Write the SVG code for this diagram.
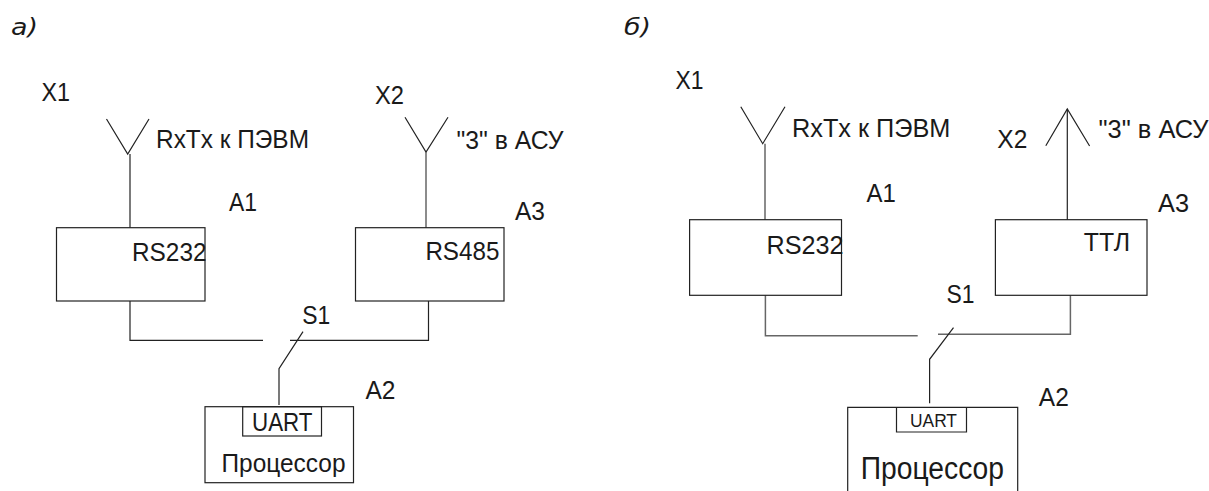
<svg xmlns="http://www.w3.org/2000/svg" width="1209" height="491" viewBox="0 0 1209 491">
<style>
text{font-family:"Liberation Sans",Arial,sans-serif;font-size:25px;fill:#1a1a1a}
.h{font-family:"DejaVu Sans",Verdana,sans-serif;font-style:italic;font-size:23px}
.b{fill:none;stroke:#222;stroke-width:1.2}
.c{fill:none;stroke:#222;stroke-width:1.2}
.g{fill:none;stroke:#666;stroke-width:1.5}
</style>
<rect width="1209" height="491" fill="#fff"/>
<g id="connectors">
<path class="c" d="M106.5 119L127.7 154L149 119"/>
<path class="c" d="M130 154V227.7"/>
<path class="c" d="M130 301V340.3H263"/>
<path class="c" d="M290 340.3H428.5V301"/>
<path class="c" d="M405 117.3L426 152L448 117.3"/>
<path class="g" d="M426 152V227.7"/>
<path class="c" d="M303 331.7L279 368.7V405"/>
<path class="c" d="M740.8 106.7L762.7 143.7L785 106.7"/>
<path class="g" d="M765 143.7V219.7"/>
<path class="g" d="M765.4 295.3V335.7H917.7"/>
<path class="g" d="M938 334.3H1070.4V295.3"/>
<path class="c" d="M1067.3 109V219.7"/>
<path class="c" d="M1045.8 145.7L1067.3 109L1089.6 146"/>
<path class="c" d="M953.5 327.7L929.6 359.3V403.3"/>
</g>
<g id="title-a"><text class="h" x="11" y="35" textLength="27" lengthAdjust="spacingAndGlyphs">а)</text></g>
<g id="title-b"><text class="h" x="624" y="35" textLength="27" lengthAdjust="spacingAndGlyphs">б)</text></g>
<g id="a-X1"><text x="41.5" y="100.7" textLength="28.5" lengthAdjust="spacingAndGlyphs">X1</text></g>
<g id="a-rxtx"><text x="156" y="147.7" textLength="153" lengthAdjust="spacingAndGlyphs">RxTx к ПЭВМ</text></g>
<g id="a-X2"><text x="375" y="104" textLength="29" lengthAdjust="spacingAndGlyphs">X2</text></g>
<g id="a-asu"><text x="456.5" y="149" textLength="107" lengthAdjust="spacingAndGlyphs">"3" в АСУ</text></g>
<g id="a-A1"><rect class="b" x="56.5" y="227.7" width="148.5" height="73.3"/><text x="229" y="210.7" textLength="28" lengthAdjust="spacingAndGlyphs">А1</text><text x="132" y="261" textLength="74.5" lengthAdjust="spacingAndGlyphs">RS232</text></g>
<g id="a-A3"><rect class="b" x="355.5" y="227.7" width="148.5" height="73.3"/><text x="515" y="219.7" textLength="30" lengthAdjust="spacingAndGlyphs">А3</text><text x="425.4" y="260" textLength="74" lengthAdjust="spacingAndGlyphs">RS485</text></g>
<g id="a-S1"><text x="302.3" y="324" textLength="28" lengthAdjust="spacingAndGlyphs">S1</text></g>
<g id="a-A2"><rect class="b" x="205" y="406.7" width="148.5" height="76"/><rect class="b" x="242.7" y="406.7" width="78.8" height="29.3"/><text x="365.4" y="398.7" textLength="30" lengthAdjust="spacingAndGlyphs">А2</text><text x="252" y="431" textLength="60.5" lengthAdjust="spacingAndGlyphs">UART</text><text x="221.5" y="472" textLength="124" lengthAdjust="spacingAndGlyphs">Процессор</text></g>
<g id="b-X1"><text x="675.4" y="88.7" textLength="28" lengthAdjust="spacingAndGlyphs">X1</text></g>
<g id="b-rxtx"><text x="792" y="137" textLength="158.4" lengthAdjust="spacingAndGlyphs">RxTx к ПЭВМ</text></g>
<g id="b-X2"><text x="997.3" y="147.7" textLength="30" lengthAdjust="spacingAndGlyphs">X2</text></g>
<g id="b-asu"><text x="1098.5" y="137.7" textLength="110" lengthAdjust="spacingAndGlyphs">"3" в АСУ</text></g>
<g id="b-A1"><rect class="b" x="689.6" y="219.7" width="151.9" height="75.6"/><text x="866.5" y="201.7" textLength="29.3" lengthAdjust="spacingAndGlyphs">А1</text><text x="766.5" y="254.3" textLength="77" lengthAdjust="spacingAndGlyphs">RS232</text></g>
<g id="b-A3"><rect class="b" x="995.4" y="219.7" width="151.6" height="75.6"/><text x="1158" y="211.7" textLength="31" lengthAdjust="spacingAndGlyphs">А3</text><text x="1083.8" y="250.7" textLength="46.2" lengthAdjust="spacingAndGlyphs">ТТЛ</text></g>
<g id="b-S1"><text x="946.5" y="303.3" textLength="28" lengthAdjust="spacingAndGlyphs">S1</text></g>
<g id="b-A2"><path class="b" d="M847.7 491V407.3H1017.7V491"/><path class="b" d="M896.5 407.3V432H966.5V407.3"/><text x="1038.8" y="405.7" textLength="30" lengthAdjust="spacingAndGlyphs">А2</text><text x="910" y="427" style="font-size:19px" textLength="47" lengthAdjust="spacingAndGlyphs">UART</text><text x="860.8" y="478.7" style="font-size:31px" textLength="143.2" lengthAdjust="spacingAndGlyphs">Процессор</text></g>
</svg>
